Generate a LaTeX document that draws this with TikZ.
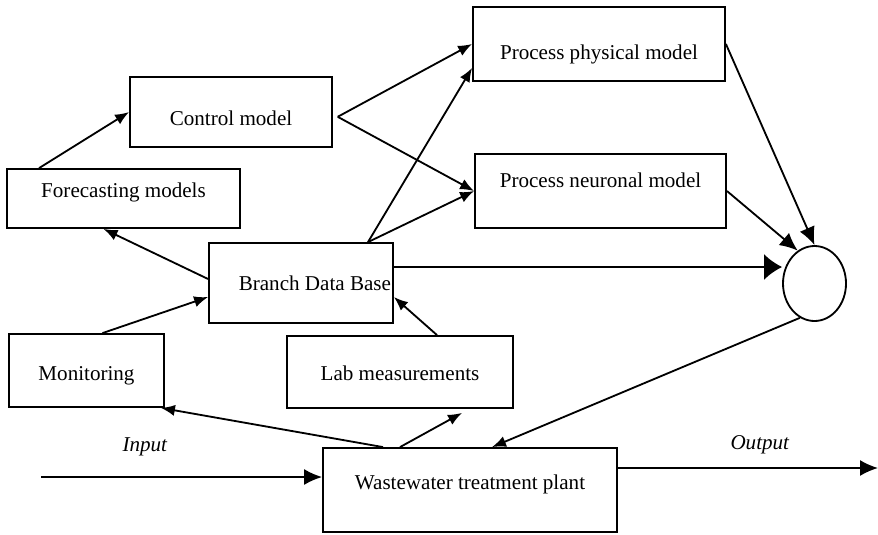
\documentclass[tikz,border=0pt]{standalone}
\usepackage{fontspec}
\setmainfont{Liberation Serif}
\usetikzlibrary{arrows.meta,positioning,shapes.geometric}

\begin{document}
\begin{tikzpicture}[font=\fontsize{15}{18}\selectfont, >={Latex[length=0.35cm,width=0.28cm]}, line width=1.3pt,
  box/.style={draw, rectangle, inner sep=0pt},
  tpos/.style={text height=#1, text depth=0pt},
  tdep/.style={text height=0pt, text depth=#1},
  midhead/.style={-{Latex[length=0.45cm,width=0.4cm]}},
  bighead/.style={-{Latex[length=0.45cm,width=0.65cm]}}]
\useasboundingbox (0,0) rectangle (21.95,13.35);

\node[box, minimum width=6.3cm, minimum height=1.85cm, tpos=0.75cm] (phys) at (14.975,12.25) {Process physical model};
\node[box, minimum width=5.05cm, minimum height=1.75cm, tpos=0.65cm] (ctrl) at (5.775,10.55) {Control model};
\node[box, minimum width=6.275cm, minimum height=1.85cm, tdep=0.2cm] (neur) at (15.0125,8.575) {Process neuronal model};
\node[box, minimum width=5.825cm, minimum height=1.475cm, tdep=0.07cm] (fore) at (3.0875,8.3875) {Forecasting models};
\node[box, minimum width=4.6cm, minimum height=2cm, tpos=0.35cm, text width=4.5cm, align=flush right] (base) at (7.525,6.275) {Branch Data Base};
\node[draw, ellipse, minimum width=1.575cm, minimum height=1.875cm, inner sep=0pt] (sum) at (20.3625,6.2625) {};
\node[box, minimum width=3.875cm, minimum height=1.825cm, tpos=0.48cm] (mon) at (2.1625,4.0875) {Monitoring};
\node[box, minimum width=5.65cm, minimum height=1.8cm, tpos=0.4cm] (lab) at (10,4.05) {Lab measurements};
\node[box, minimum width=7.35cm, minimum height=2.1cm, tdep=0.05cm] (plant) at (11.75,1.1) {Wastewater treatment plant};

\node (inlbl) at (3.625,2.175) {\textit{Input}};
\node (outlbl) at (19,2.225) {\textit{Output}};

\coordinate (in) at (1.025,1.425);
\coordinate (out) at (21.95,1.65);
\coordinate (fork) at ([xshift=0.12cm,yshift=-0.12cm]ctrl.east);
\coordinate (top) at ([xshift=1.675cm]base.north);
\coordinate (bout) at ([yshift=0.4cm]base.east);

\draw[->] ([xshift=0.825cm]fore.north west) -- (ctrl.west);
\draw[->] (fork) -- (phys.west);
\draw[->] (fork) -- (neur.west);
\draw[->] (top) -- ([yshift=0.35cm]phys.south west);
\draw[->] (top) -- (neur.west);
\draw[->] ([yshift=0.1cm]base.west) -- ([xshift=-0.5cm]fore.south);
\draw[->] ([xshift=0.4cm]mon.north) -- ([yshift=-0.35cm]base.west);
\draw[->] ([xshift=0.925cm]lab.north) -- ([yshift=-0.35cm]base.east);
\draw[bighead] (bout) -- (bout -| sum.west);
\draw[midhead] (phys.east) -- (sum.north);
\draw[midhead] (neur.east) -- (sum.117);
\draw[->] (sum.247) -- ([xshift=0.55cm]plant.north);
\draw[->] ([xshift=-2.175cm]plant.north) -- ([xshift=-0.1cm]mon.south east);
\draw[->] ([xshift=-1.75cm]plant.north) -- ([xshift=1.55cm,yshift=-0.1cm]lab.south);
\draw[midhead] (in) -- (in -| plant.west);
\draw[midhead] (plant.east |- out) -- (out);
\end{tikzpicture}
\end{document}
